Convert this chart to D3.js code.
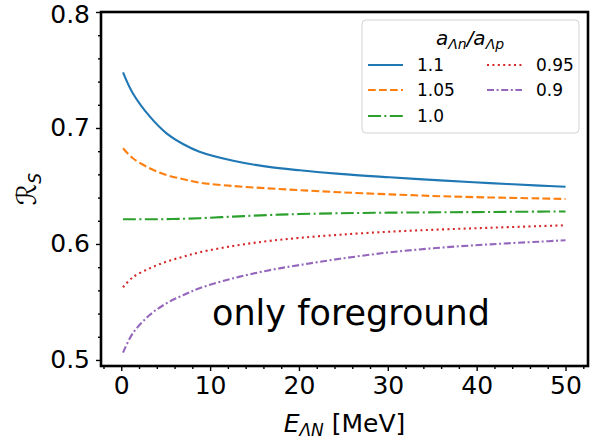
<!DOCTYPE html>
<html>
<head>
<meta charset="utf-8">
<script src="https://cdn.jsdelivr.net/npm/d3@7"></script>
<style>
  body { margin: 0; background: #fff; }
  text { font-family: "DejaVu Sans", sans-serif; fill: #000; }
</style>
</head>
<body>
<div id="chart"></div>
<script>
// energies E_ΛN in MeV
const energies = [0.2, 1.3, 3.2, 5.1, 7.0, 8.8, 12.6, 16.4, 20.1, 24.6, 30.2, 35.9, 41.5, 47.1, 50];

const r110 = [0.748, 0.730, 0.710, 0.6954, 0.686, 0.6796, 0.6718, 0.6667, 0.6635, 0.6604, 0.6575, 0.6548, 0.6525, 0.6503, 0.6493];
const r105 = [0.6825, 0.6739, 0.6653, 0.6595, 0.6558, 0.6529, 0.650, 0.648, 0.6464, 0.6446, 0.6428, 0.6412, 0.6401, 0.6393, 0.6388];
const r100 = [0.6213, 0.6213, 0.6213, 0.6214, 0.6217, 0.6222, 0.6236, 0.6249, 0.6258, 0.6265, 0.627, 0.6273, 0.6276, 0.6279, 0.628];
const r095 = [0.5627, 0.5713, 0.579, 0.5848, 0.5891, 0.5928, 0.5983, 0.6024, 0.6053, 0.608, 0.6106, 0.6125, 0.614, 0.6154, 0.6161];
const r090 = [0.5063, 0.523, 0.5388, 0.5489, 0.556, 0.5618, 0.5704, 0.577, 0.5819, 0.5872, 0.5928, 0.5968, 0.5997, 0.602, 0.6032];

const seriesLabels = ["1.1", "1.05", "1.0", "0.95", "0.9"];
const seriesValues = [r110, r105, r100, r095, r090];
const colors = ["#1f77b4", "#ff7f0e", "#2ca02c", "#d62728", "#9467bd"];
const dashes = [null, "7.7,3.3", "13,3.4,2,3.4", "2,3.4", "7,2.6,2,2.6"];

const xTicks = [0, 10, 20, 30, 40, 50];
const yTicks = [0.5, 0.6, 0.7, 0.8];

const width = 603, height = 442;
const margin = {left: 101, right: 15, top: 12, bottom: 76};

const svg = d3.select("#chart").append("svg")
    .attr("width", width)
    .attr("height", height);

const x = d3.scaleLinear().domain([-2.28, 52.53]).range([margin.left, width - margin.right]);
const y = d3.scaleLinear().domain([0.4948, 0.8]).range([height - margin.bottom, margin.top]);

// lines
const line = d3.line()
    .x(d => x(d[0]))
    .y(d => y(d[1]))
    .curve(d3.curveCatmullRom.alpha(0.5));

const lines = svg.append("g");
seriesValues.forEach((vals, i) => {
    lines.append("path")
        .datum(energies.map((e, j) => [e, vals[j]]))
        .attr("d", line)
        .attr("fill", "none")
        .attr("stroke", colors[i])
        .attr("stroke-width", 2.1)
        .attr("stroke-dasharray", dashes[i]);
});

// axes
const xAxis = svg.append("g")
    .attr("transform", `translate(0,${height - margin.bottom})`)
    .call(d3.axisBottom(x).tickValues(xTicks).tickSize(5).tickPadding(5).tickFormat(d3.format("d")));
const xMinor = svg.append("g")
    .attr("transform", `translate(0,${height - margin.bottom})`)
    .call(d3.axisBottom(x).tickValues(d3.range(-2, 53, 2).filter(v => v % 10 !== 0)).tickSize(3).tickFormat(""));

const yAxis = svg.append("g")
    .attr("transform", `translate(${margin.left},0)`)
    .call(d3.axisLeft(y).tickValues(yTicks).tickSize(5).tickPadding(6).tickFormat(d3.format(".1f")));
const yMinor = svg.append("g")
    .attr("transform", `translate(${margin.left},0)`)
    .call(d3.axisLeft(y).tickValues([0.52, 0.54, 0.56, 0.58, 0.62, 0.64, 0.66, 0.68, 0.72, 0.74, 0.76, 0.78]).tickSize(3).tickFormat(""));

[xAxis, xMinor, yAxis, yMinor].forEach(g => {
    g.select(".domain").remove();
    g.selectAll(".tick line").attr("stroke", "#000").attr("stroke-width", 1.4);
    g.selectAll("text").attr("font-size", 25).attr("font-family", "DejaVu Sans").attr("fill", "#000");
});
// keep the top label inside the picture
yAxis.selectAll(".tick text").filter(d => d === 0.8).attr("dy", "0.4em");

// frame
svg.append("rect")
    .attr("x", margin.left)
    .attr("y", margin.top)
    .attr("width", width - margin.right - margin.left)
    .attr("height", height - margin.bottom - margin.top)
    .attr("fill", "none")
    .attr("stroke", "#000")
    .attr("stroke-width", 2.6);

// axis labels
const xl = svg.append("text")
    .attr("x", (margin.left + width - margin.right) / 2)
    .attr("y", 432)
    .attr("text-anchor", "middle")
    .attr("font-size", 25);
xl.append("tspan").attr("font-style", "italic").text("E");
xl.append("tspan").attr("font-style", "italic").attr("font-size", 17).attr("dy", 4).text("ΛN");
xl.append("tspan").attr("dy", -4).text(" [MeV]");

const yl = svg.append("text")
    .attr("transform", `translate(36,${(margin.top + height - margin.bottom) / 2}) rotate(-90)`)
    .attr("text-anchor", "middle")
    .attr("font-size", 27);
yl.append("tspan").attr("font-style", "italic").text("ℛ");
yl.append("tspan").attr("font-style", "italic").attr("font-size", 17).attr("dy", 5).text("S");

// annotation
svg.append("text")
    .attr("x", 212)
    .attr("y", 325)
    .attr("font-size", 35)
    .text("only foreground");

// legend
const lg = svg.append("g");
lg.append("rect")
    .attr("x", 362).attr("y", 20)
    .attr("width", 217).attr("height", 113)
    .attr("rx", 4)
    .attr("fill", "#fff").attr("fill-opacity", 0.8)
    .attr("stroke", "#d3d3d3").attr("stroke-width", 1);

const title = lg.append("text")
    .attr("x", 470).attr("y", 45)
    .attr("text-anchor", "middle")
    .attr("font-size", 20)
    .attr("font-style", "italic");
title.append("tspan").text("a");
title.append("tspan").attr("font-size", 14).attr("dy", 4).text("Λn");
title.append("tspan").attr("dy", -4).text("/a");
title.append("tspan").attr("font-size", 14).attr("dy", 4).text("Λp");

const legendPos = [[368, 65], [368, 90], [368, 116], [487, 65], [487, 90]];
seriesLabels.forEach((lab, i) => {
    const [lx, ly] = legendPos[i];
    lg.append("line")
        .attr("x1", lx).attr("x2", lx + 35)
        .attr("y1", ly).attr("y2", ly)
        .attr("stroke", colors[i])
        .attr("stroke-width", 2.1)
        .attr("stroke-dasharray", dashes[i]);
    lg.append("text")
        .attr("x", lx + 49).attr("y", ly)
        .attr("dy", "0.36em")
        .attr("font-size", 17)
        .text(lab);
});
</script>
</body>
</html>
